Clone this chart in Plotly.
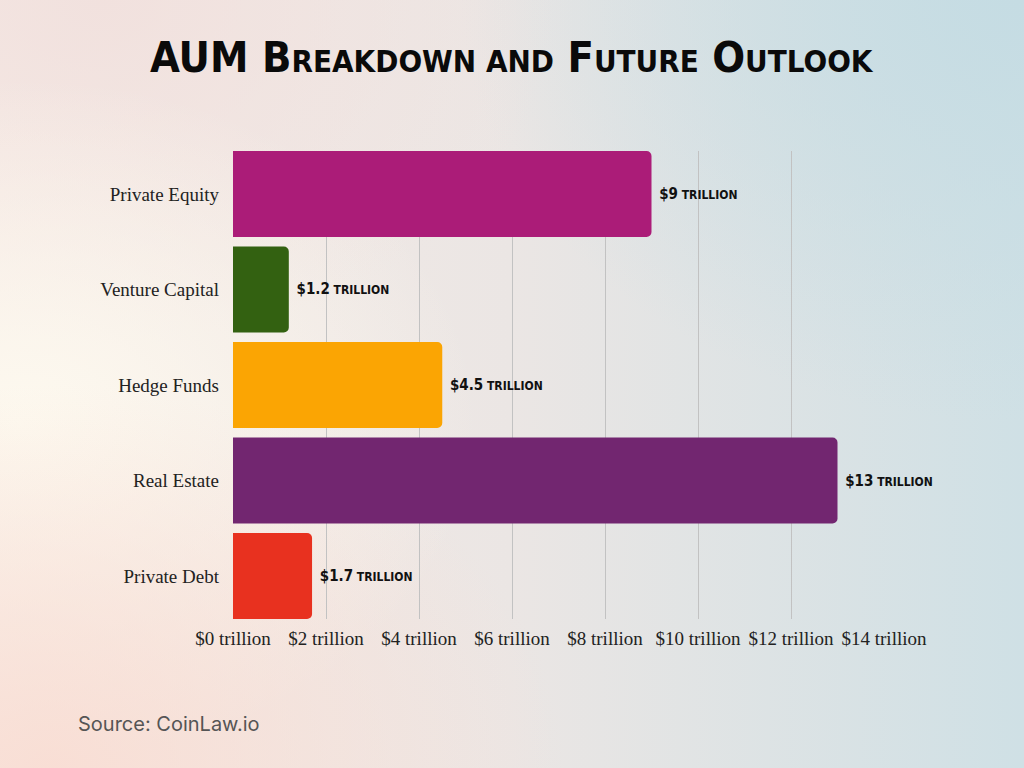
import base64
import plotly.graph_objects as go

categories = ["Private Equity", "Venture Capital", "Hedge Funds", "Real Estate", "Private Debt"]
values = [9, 1.2, 4.5, 13, 1.7]
colors = ["#ab1c78", "#336111", "#fba503", "#722670", "#e8311f"]
tick_vals = [0, 2, 4, 6, 8, 10, 12, 14]
tick_text = [f"${v} trillion" for v in tick_vals]

W, H = 1024, 768
L, R, T, B = 233, 140, 151, 149
pw, ph = W - L - R, H - T - B

svg = f"""<svg xmlns='http://www.w3.org/2000/svg' width='{W}' height='{H}' viewBox='0 0 {W} {H}'>
<defs>
<linearGradient id='g' x1='0' y1='0' x2='1' y2='0'>
<stop offset='0' stop-color='#f6ebe6'/><stop offset='0.5' stop-color='#ebe6e4'/><stop offset='1' stop-color='#cfe0e5'/>
</linearGradient>
<radialGradient id='c' cx='0.02' cy='0.55' r='0.45'>
<stop offset='0' stop-color='#fdf9ef' stop-opacity='1'/><stop offset='1' stop-color='#fdf9ef' stop-opacity='0'/>
</radialGradient>
<radialGradient id='p' cx='0.05' cy='1.0' r='0.5'>
<stop offset='0' stop-color='#f9ddd3' stop-opacity='0.9'/><stop offset='1' stop-color='#f9ddd3' stop-opacity='0'/>
</radialGradient>
<radialGradient id='b' cx='1' cy='0' r='0.55'>
<stop offset='0' stop-color='#c5dce3' stop-opacity='1'/><stop offset='1' stop-color='#c5dce3' stop-opacity='0'/>
</radialGradient>
<radialGradient id='t' cx='0.1' cy='0' r='0.45'>
<stop offset='0' stop-color='#f1e0dd' stop-opacity='0.9'/><stop offset='1' stop-color='#f1e0dd' stop-opacity='0'/>
</radialGradient>
</defs>
<rect width='100%' height='100%' fill='url(#g)'/>
<rect width='100%' height='100%' fill='url(#t)'/>
<rect width='100%' height='100%' fill='url(#c)'/>
<rect width='100%' height='100%' fill='url(#p)'/>
<rect width='100%' height='100%' fill='url(#b)'/>
</svg>"""
src = "data:image/svg+xml;base64," + base64.b64encode(svg.encode()).decode()

label_text = [f" ${v:g}<span style='font-size:12px'> TRILLION</span>" for v in values]

fig = go.Figure(go.Bar(
    x=values, y=categories, orientation="h",
    marker=dict(color=colors, line=dict(width=0), cornerradius=5),
    width=0.9,
    text=label_text, textposition="outside", cliponaxis=False,
    textfont=dict(family="DejaVu Sans Condensed, sans-serif", size=15, color="#111111", weight="bold"),
    hoverinfo="skip",
))

small = "font-size:31px"
fig.update_layout(
    width=W, height=H,
    margin=dict(l=L, r=R, t=T, b=B),
    paper_bgcolor="#ebe6e4", plot_bgcolor="rgba(0,0,0,0)",
    showlegend=False,
    images=[dict(source=src, xref="paper", yref="paper",
                 x=-L / pw, y=1 + T / ph, sizex=W / pw, sizey=H / ph,
                 xanchor="left", yanchor="top", sizing="stretch", layer="below")],
    xaxis=dict(range=[0, 14], tickvals=tick_vals, ticktext=tick_text,
               showgrid=True, gridcolor="#c2c2c2", gridwidth=1, zeroline=False,
               showline=False, ticks="", ticklabelstandoff=6,
               tickfont=dict(family="Liberation Serif, serif", size=19, color="#222222")),
    yaxis=dict(range=[4.45, -0.45], showgrid=False, zeroline=False, showline=False,
               ticks="", ticklabelstandoff=13,
               tickfont=dict(family="Liberation Serif, serif", size=19, color="#222222")),
    annotations=[
        dict(text=f"AUM B<span style='{small}'>REAKDOWN AND</span> F<span style='{small}'>UTURE</span> O<span style='{small}'>UTLOOK</span>",
             xref="paper", yref="paper", x=(512 - L) / pw, y=1 + (T - 57) / ph,
             xanchor="center", yanchor="middle", showarrow=False,
             font=dict(family="DejaVu Sans Condensed, sans-serif", size=43, color="#0a0a0a", weight="bold")),
        dict(text="Source: CoinLaw.io", xref="paper", yref="paper",
             x=(76 - L) / pw, y=1 + (T - 724) / ph, xanchor="left", yanchor="middle",
             showarrow=False, font=dict(family="Inter, Noto Sans, sans-serif", size=20, color="#555555")),
    ],
)

fig.write_html("out.html", config={"displayModeBar": False},
               post_script="document.body.style.margin='0';document.body.style.padding='0';")
